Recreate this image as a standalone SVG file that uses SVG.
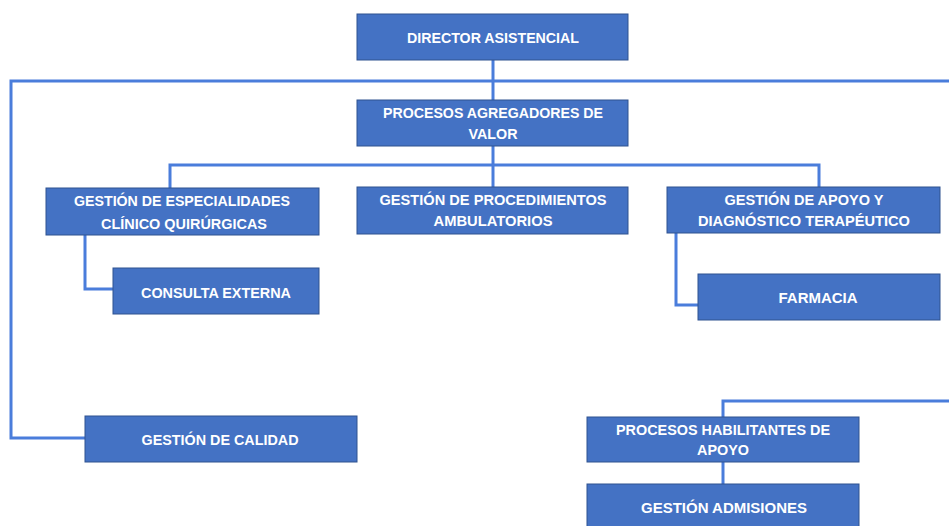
<svg xmlns="http://www.w3.org/2000/svg" width="949" height="526" viewBox="0 0 949 526">
<style>
.box{fill:#4472C4;stroke:#2F528F;stroke-width:1}
.t{font-family:"Liberation Sans",Arial,sans-serif;font-weight:bold;font-size:14px;fill:#ffffff;text-anchor:middle}
.c{fill:none;stroke:#4A7DDB;stroke-width:3}
</style>
<rect width="949" height="526" fill="#ffffff"/>
<g id="connectors">
<path class="c" d="M493,60 V100"/>
<path class="c" d="M949,81 H11 V438 H85"/>
<path class="c" d="M493,146 V187"/>
<path class="c" d="M170,188 V165 H819 V187"/>
<path class="c" d="M85,235 V289 H113"/>
<path class="c" d="M676,233 V305 H698"/>
<path class="c" d="M949,401 H723 V417"/>
<path class="c" d="M723,462 V484"/>
</g>
<g id="director"><rect class="box" x="357" y="14" width="271" height="46"/><text class="t" x="493" y="43" textLength="172" lengthAdjust="spacingAndGlyphs">DIRECTOR ASISTENCIAL</text></g>
<g id="agregadores"><rect class="box" x="357" y="100" width="271" height="46"/><text class="t" x="493" y="118" textLength="220" lengthAdjust="spacingAndGlyphs">PROCESOS AGREGADORES DE</text><text class="t" x="493" y="139" textLength="49" lengthAdjust="spacingAndGlyphs">VALOR</text></g>
<g id="especialidades"><rect class="box" x="46" y="188" width="273" height="47"/><text class="t" x="182" y="206" textLength="216" lengthAdjust="spacingAndGlyphs">GESTIÓN DE ESPECIALIDADES</text><text class="t" x="184" y="229" textLength="166" lengthAdjust="spacingAndGlyphs">CLÍNICO QUIRÚRGICAS</text></g>
<g id="procedimientos"><rect class="box" x="357" y="187" width="271" height="47"/><text class="t" x="493" y="205" textLength="227" lengthAdjust="spacingAndGlyphs">GESTIÓN DE PROCEDIMIENTOS</text><text class="t" x="493" y="226" textLength="119" lengthAdjust="spacingAndGlyphs">AMBULATORIOS</text></g>
<g id="apoyo"><rect class="box" x="667" y="187" width="273" height="46"/><text class="t" x="804" y="205" textLength="159" lengthAdjust="spacingAndGlyphs">GESTIÓN DE APOYO Y</text><text class="t" x="804" y="226" textLength="212" lengthAdjust="spacingAndGlyphs">DIAGNÓSTICO TERAPÉUTICO</text></g>
<g id="consulta"><rect class="box" x="113" y="268" width="206" height="46"/><text class="t" x="216" y="298" textLength="150" lengthAdjust="spacingAndGlyphs">CONSULTA EXTERNA</text></g>
<g id="farmacia"><rect class="box" x="698" y="274" width="242" height="46"/><text class="t" x="818" y="303" textLength="79" lengthAdjust="spacingAndGlyphs">FARMACIA</text></g>
<g id="calidad"><rect class="box" x="85" y="416" width="272" height="46"/><text class="t" x="220" y="445" textLength="157" lengthAdjust="spacingAndGlyphs">GESTIÓN DE CALIDAD</text></g>
<g id="habilitantes"><rect class="box" x="587" y="417" width="272" height="45"/><text class="t" x="723" y="435" textLength="214" lengthAdjust="spacingAndGlyphs">PROCESOS HABILITANTES DE</text><text class="t" x="723" y="455" textLength="52" lengthAdjust="spacingAndGlyphs">APOYO</text></g>
<g id="admisiones"><rect class="box" x="587" y="484" width="272" height="50"/><text class="t" x="724" y="513" textLength="166" lengthAdjust="spacingAndGlyphs">GESTIÓN ADMISIONES</text></g>
</svg>
